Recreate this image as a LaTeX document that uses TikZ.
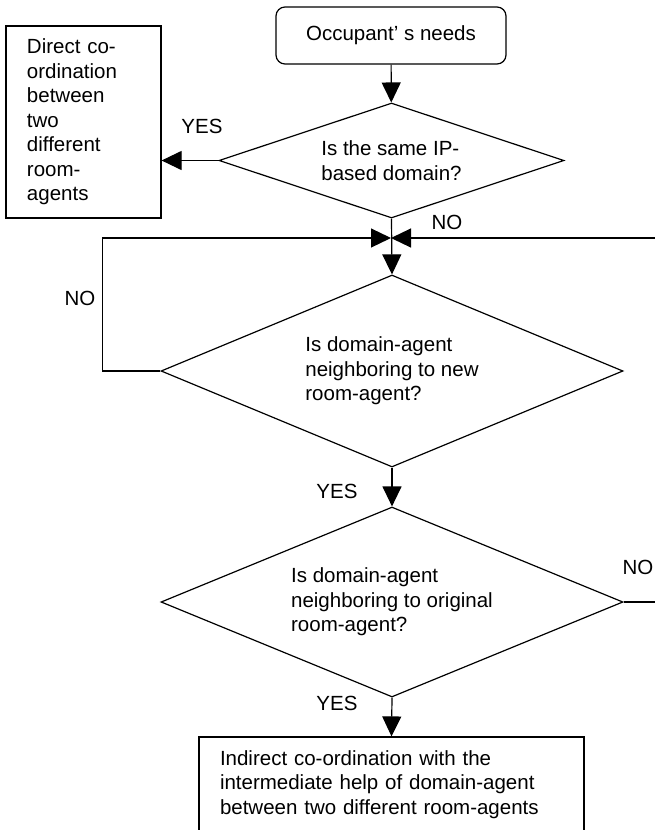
\documentclass[tikz,border=0pt]{standalone}
\usepackage{fontspec}
\setmainfont{Liberation Sans}
\usetikzlibrary{arrows.meta, positioning, shapes.geometric}

\begin{document}
\begin{tikzpicture}[
		x=1pt, y=1pt,
		line width=1.2pt,
		every node/.style={font=\fontsize{20.5}{24.5}\selectfont},
		startbox/.style={draw, rounded corners=9pt, minimum width=230pt,
			minimum height=57pt, inner sep=0pt},
		decision/.style={draw, diamond, inner sep=0pt, align=left},
		outbox/.style={draw, rectangle, align=left, inner xsep=21pt, inner ysep=0pt},
		lbl/.style={inner sep=0pt},
		>={Triangle[length=20pt, width=19pt]}
	]
	% page is 655 x 830, y runs downwards as negative values
	\useasboundingbox (0,0) rectangle (655,-830);

	\node[startbox] (start) at (391,-35.5) {Occupant' s needs};

	% aspect set per diamond, otherwise the text pushes the height up
	\node[decision, aspect=3, minimum width=345pt, minimum height=115pt] (samedomain)
		at (391.5,-160.5) {Is the same IP-\\based domain?};

	\node[outbox, text width=113pt, minimum height=192pt] (direct) at (83.5,-122)
		{Direct co-\\ordination\\between\\two\\different\\room-\\agents};

	\node[decision, aspect=2.4, minimum width=462pt, minimum height=192pt] (newagent)
		at (392,-371) {Is domain-agent\\neighboring to new\\room-agent?};

	\node[decision, aspect=2.4, minimum width=462pt, minimum height=190pt] (origagent)
		at (392,-602) {Is domain-agent\\neighboring to original\\room-agent?};

	% bottom edge of this box falls just below the page and is cut off
	\node[outbox, text width=343pt, minimum height=95pt] (indirect) at (391.5,-784.5)
		{Indirect co-ordination with the\\intermediate help of domain-agent\\between two different room-agents};

	% both NO loops come back to the same point under the first decision
	\coordinate (junc) at (391,-238);

	\draw[->] (start) -- (samedomain);
	% horizontal, the box is taller than the diamond's left corner
	\draw[->] (samedomain.west) -- (samedomain.west -| direct.east);
	\node[lbl] (yes1) at (202,-126) {YES};

	\draw[->] (samedomain.south) -- (newagent.north);
	\node[lbl] (no1) at (447,-222) {NO};

	\draw[->] (newagent.west) -- ++(-58,0) |- (junc);
	\node[lbl] (no2) at (80,-298) {NO};

	% right return line runs just outside the page edge
	\draw[->] (origagent.east) -- ++(35,0) |- (junc);
	\node[lbl] (no3) at (638,-567) {NO};

	\draw[->] (newagent.south) -- (origagent.north);
	\node[lbl] (yes2) at (337,-491) {YES};

	\draw[->] (origagent.south) -- (indirect.north);
	\node[lbl] (yes3) at (337,-703) {YES};
\end{tikzpicture}
\end{document}
